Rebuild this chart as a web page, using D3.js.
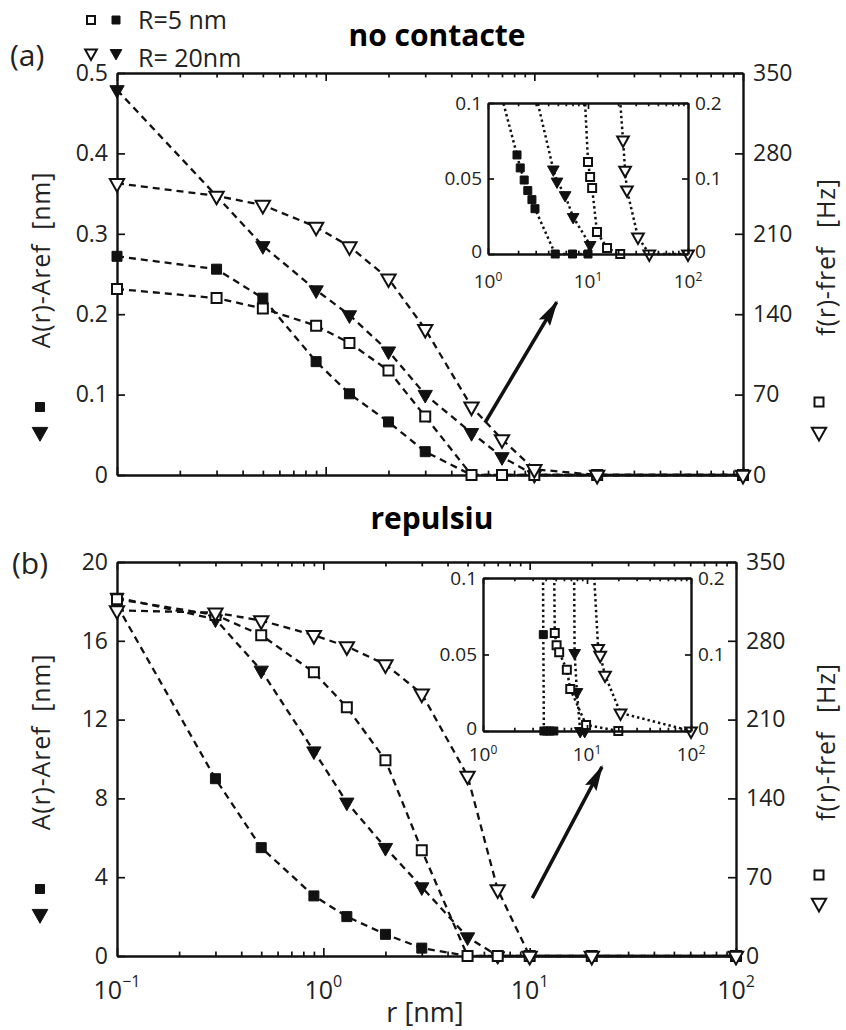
<!DOCTYPE html>
<html><head><meta charset="utf-8">
<script src="https://cdn.jsdelivr.net/npm/d3@7"></script>
<style>body{margin:0;background:#fff}</style>
</head><body>
<svg id="c" width="846" height="1030" xmlns="http://www.w3.org/2000/svg"></svg>
<script>
// ---------------- data ----------------
const rValues = [0.1, 0.3, 0.5, 0.9, 1.3, 2, 3, 5, 7, 10, 20, 100];
// panel (a) "no contacte"
const aAmpR5   = [0.272, 0.256, 0.220, 0.141, 0.101, 0.066, 0.029, 0, 0, 0, 0, 0];      // nm, filled square
const aAmpR20  = [0.479, 0.347, 0.285, 0.230, 0.199, 0.154, 0.100, 0.0525, 0.0225, 0, 0, 0]; // nm, filled triangle
const aFreqR5  = [162, 154, 145, 130, 115, 91, 51, 0, 0, 0, 0, 0];                       // Hz, open square
const aFreqR20 = [254, 243, 235, 216, 199, 171, 127, 59.5, 31, 5, 0, 0];                 // Hz, open triangle
// panel (b) "repulsiu"
const bAmpR5   = [17.8, 9.0, 5.5, 3.05, 2.0, 1.1, 0.4, 0, 0, 0, 0, 0];
const bAmpR20  = [18.2, 17.1, 14.5, 10.4, 7.8, 5.5, 3.5, 0.96, 0, 0, 0, 0];
const bFreqR5  = [317, 303, 285, 252, 221, 174, 94, 0, 0, 0, 0, 0];
const bFreqR20 = [307, 305, 298, 285, 275, 259, 233, 160, 59, 0, 0, 0];
// inset (a)
const insAAmpR5_r   = [1.3, 1.95, 2.1, 2.3, 2.5, 2.75, 2.95, 4.7, 7, 10];
const insAAmpR5     = [0.11, 0.0656, 0.057, 0.049, 0.042, 0.036, 0.030, 0, 0, 0];
const insAAmpR20_r  = [2.9, 4.5, 4.9, 5.9, 7.1, 10.5];
const insAAmpR20    = [0.11, 0.056, 0.048, 0.039, 0.0245, 0.006];
const insAFreqR5_r  = [9.2, 10, 10.5, 11, 12.3, 15.5, 21];
const insAFreqR5    = [0.22, 0.122, 0.102, 0.0874, 0.029, 0.008, 0];
const insAFreqR20_r = [20, 22.4, 23.5, 24.5, 31.6, 41, 100];
const insAFreqR20   = [0.24, 0.151, 0.111, 0.085, 0.0225, 0, 0];
// inset (b)
const insBAmpR5_r   = [3.75, 3.8, 3.85, 4.1, 4.4, 4.8];
const insBAmpR5     = [0.15, 0.063, 0, 0, 0, 0];
const insBAmpR20_r  = [7.45, 7.6, 8.0, 8.6, 9.5];
const insBAmpR20    = [0.15, 0.051, 0.0255, 0, 0];
const insBFreqR5_r  = [4.8, 4.9, 5.1, 5.4, 6.4, 6.9, 9.8, 20];
const insBFreqR5    = [0.25, 0.128, 0.112, 0.103, 0.080, 0.055, 0.008, 0];
const insBFreqR20_r = [11.2, 12.8, 13.4, 14.9, 21, 100];
const insBFreqR20   = [0.25, 0.108, 0.099, 0.073, 0.0235, 0];
// ticks
const aLeftTicks  = [0, 0.1, 0.2, 0.3, 0.4, 0.5];
const bLeftTicks  = [0, 4, 8, 12, 16, 20];
const rightTicks  = [0, 70, 140, 210, 280, 350];
const insLeftTicks  = [0, 0.05, 0.1];
const insRightTicks = [0, 0.1, 0.2];
const mainDecades = [0.1, 1, 10, 100];
const mainExp = ["\u22121", "0", "1", "2"];
const insDecades = [1, 10, 100];
const insExp = ["0", "1", "2"];
const legendLabels = ["R=5 nm", "R= 20nm"];
const titles = ["no contacte", "repulsiu"];

// ---------------- helpers ----------------
const FONT = "'Open Sans', 'DejaVu Sans', sans-serif";
const svg = d3.select("#c");
svg.append("rect").attr("width", 846).attr("height", 1030).attr("fill", "#fff");

function shapePath(shape, s) {
  if (shape === "sq") return `M${-s/2},${-s/2}h${s}v${s}h${-s}Z`;
  const w = s * 1.3, h = s * 1.15;
  return `M${-w/2},${-h/3}L${w/2},${-h/3}L0,${2*h/3}Z`;
}
function marker(g, shape, filled, x, y, s) {
  g.append("path").attr("d", shapePath(shape, s))
    .attr("transform", `translate(${x},${y})`)
    .attr("fill", filled ? "#111" : "#fff")
    .attr("stroke", "#111").attr("stroke-width", filled ? 1 : 2);
}
function minorTicks(lo, hi) {
  const out = [];
  for (let e = Math.log10(lo); e < Math.log10(hi); e++)
    for (let k = 2; k <= 9; k++) out.push(k * Math.pow(10, e));
  return out;
}
function styleAxis(g, fs) {
  g.select("path.domain").attr("stroke", "#111").attr("stroke-width", 2.4);
  g.selectAll(".tick line").attr("stroke", "#111").attr("stroke-width", 1.7);
  g.selectAll("text").attr("font-family", FONT).attr("font-size", fs).attr("fill", "#222");
  g.attr("font-family", null).attr("font-size", null);
}
function frame(g, xs, yL, yR, o) {
  const [x0, x1] = xs.range(), [yB, yT] = yL.range();
  const gl = g.append("g").attr("transform", `translate(${x0},0)`)
    .call(d3.axisLeft(yL).tickValues(o.lt).tickFormat(o.lf).tickSize(-o.tk).tickSizeOuter(0).tickPadding(o.padL));
  styleAxis(gl, o.fs);
  const gr = g.append("g").attr("transform", `translate(${x1},0)`)
    .call(d3.axisRight(yR).tickValues(o.rt).tickFormat(o.rf).tickSize(-o.tk).tickSizeOuter(0).tickPadding(o.padR));
  styleAxis(gr, o.fs);
  if (o.raiseZero) {
    [gl, gr].forEach(ga => ga.selectAll(".tick").filter(d => d === 0).select("text")
      .attr("y", -o.raiseZero));
  }
  [[d3.axisBottom, yB], [d3.axisTop, yT]].forEach(([ax, yy]) => {
    const gm = g.append("g").attr("transform", `translate(0,${yy})`)
      .call(ax(xs).tickValues(o.maj).tickFormat("").tickSize(-o.tk).tickSizeOuter(0));
    styleAxis(gm, o.fs);
    const gn = g.append("g").attr("transform", `translate(0,${yy})`)
      .call(ax(xs).tickValues(o.min).tickFormat("").tickSize(-o.tk * 0.55).tickSizeOuter(0));
    styleAxis(gn, o.fs);
    gn.select("path.domain").remove();
  });
}
function xLabels(g, xs, decs, exps, y, fs, sfs, supDy) {
  decs.forEach((d, i) => {
    const t = g.append("text").attr("x", xs(d)).attr("y", y).attr("text-anchor", "middle")
      .attr("font-family", FONT).attr("font-size", fs).attr("fill", "#222");
    t.append("tspan").text("10");
    t.append("tspan").attr("dy", -supDy).attr("font-size", sfs).text(exps[i]);
  });
}
function series(g, xs, ys, rs, vs, shape, filled, s, dash, lw, clipId, maxV) {
  const pts = rs.map((r, i) => [r, vs[i]]);
  const line = d3.line().x(d => xs(d[0])).y(d => ys(d[1]));
  const p = g.append("path").datum(pts).attr("d", line).attr("fill", "none")
    .attr("stroke", "#111").attr("stroke-width", lw).attr("stroke-dasharray", dash);
  if (clipId) p.attr("clip-path", `url(#${clipId})`);
  pts.filter(d => maxV === undefined || d[1] <= maxV)
    .forEach(d => marker(g, shape, filled, xs(d[0]), ys(d[1]), s));
}

// ---------------- main panels ----------------
function mainPanel(cfg) {
  const g = svg.append("g");
  const xs = d3.scaleLog().domain([0.1, 100]).range([cfg.x0, cfg.x1]);
  const yL = d3.scaleLinear().domain([0, cfg.leftMax]).range([cfg.yB, cfg.yT]);
  const yR = d3.scaleLinear().domain([0, 350]).range([cfg.yB, cfg.yT]);
  frame(g, xs, yL, yR, {lt: cfg.lt, lf: cfg.lf, rt: rightTicks, rf: d3.format("d"), tk: 8,
    padL: 9, padR: 10, maj: mainDecades, min: minorTicks(0.1, 100), fs: 23});
  const dash = "7,5";
  series(g, xs, yL, rValues, cfg.ampR5, "sq", true, 10, dash, 2.3);
  series(g, xs, yL, rValues, cfg.ampR20, "tri", true, 11, dash, 2.3);
  series(g, xs, yR, rValues, cfg.freqR5, "sq", false, 10, dash, 2.3);
  series(g, xs, yR, rValues, cfg.freqR20, "tri", false, 11, dash, 2.3);
  // arrow (in data coordinates)
  g.append("line").attr("x1", xs(cfg.arrow[0][0])).attr("y1", yL(cfg.arrow[0][1]))
    .attr("x2", xs(cfg.arrow[1][0])).attr("y2", yL(cfg.arrow[1][1]))
    .attr("stroke", "#111").attr("stroke-width", 3.5).attr("marker-end", "url(#ah)");
  if (cfg.xlab) {
    xLabels(g, xs, mainDecades, mainExp, cfg.xlabY, 25, 16, 12);
    g.append("text").attr("x", 425).attr("y", 1022).attr("text-anchor", "middle")
      .attr("font-family", FONT).attr("font-size", 27).attr("fill", "#222").text("r [nm]");
  }
  // title
  svg.append("text").attr("x", cfg.titleX).attr("y", cfg.titleY).attr("text-anchor", "middle")
    .attr("font-family", FONT).attr("font-weight", 700).attr("font-size", 30).attr("fill", "#000")
    .text(cfg.title);
  // panel letter
  svg.append("text").attr("x", cfg.letX).attr("y", cfg.letY).attr("font-family", FONT)
    .attr("font-size", 30).attr("fill", "#222").text(cfg.letter);
  // y labels
  const lt = svg.append("text").attr("transform", `translate(50,${cfg.lyC}) rotate(-90)`)
    .attr("text-anchor", "middle").attr("font-family", FONT).attr("font-size", 25)
    .attr("letter-spacing", 0.8).attr("fill", "#222");
  lt.append("tspan").text("A(r)-Aref");
  lt.append("tspan").attr("dx", 14).text("[nm]");
  marker(svg, "sq", true, 40, cfg.lm[0], 9);
  marker(svg, "tri", true, 40, cfg.lm[1], 12);
  const rt = svg.append("text").attr("transform", `translate(835,${cfg.ryC}) rotate(-90)`)
    .attr("text-anchor", "middle").attr("font-family", FONT).attr("font-size", 25)
    .attr("letter-spacing", 0.8).attr("fill", "#222");
  rt.append("tspan").text("f(r)-fref");
  rt.append("tspan").attr("dx", 18).text("[Hz]");
  marker(svg, "sq", false, 819, cfg.rm[0], 9);
  marker(svg, "tri", false, 819, cfg.rm[1], 11);
}

function inset(cfg) {
  const g = svg.append("g");
  g.append("rect").attr("x", cfg.x0).attr("y", cfg.yT).attr("width", cfg.x1 - cfg.x0)
    .attr("height", cfg.yB - cfg.yT).attr("fill", "#fff");
  const clipId = "clip" + cfg.id;
  svg.select("defs").append("clipPath").attr("id", clipId).append("rect")
    .attr("x", cfg.x0).attr("y", cfg.yT).attr("width", cfg.x1 - cfg.x0).attr("height", cfg.yB - cfg.yT + 2);
  const xs = d3.scaleLog().domain([1, 100]).range([cfg.x0, cfg.x1]);
  const yL = d3.scaleLinear().domain([0, 0.1]).range([cfg.yB, cfg.yT]);
  const yR = d3.scaleLinear().domain([0, 0.2]).range([cfg.yB, cfg.yT]);
  const dot = "2.4,3";
  series(g, xs, yL, cfg.s[0][0], cfg.s[0][1], "sq", true, 8, dot, 2.5, clipId, 0.1);
  series(g, xs, yL, cfg.s[1][0], cfg.s[1][1], "tri", true, 9, dot, 2.5, clipId, 0.1);
  series(g, xs, yR, cfg.s[2][0], cfg.s[2][1], "sq", false, 8, dot, 2.5, clipId, 0.2);
  series(g, xs, yR, cfg.s[3][0], cfg.s[3][1], "tri", false, 9, dot, 2.5, clipId, 0.2);
  frame(g, xs, yL, yR, {lt: insLeftTicks, lf: d => String(d), rt: insRightTicks, rf: d => String(d),
    tk: 6, padL: 6, padR: 7, maj: insDecades, min: minorTicks(1, 100), fs: 19, raiseZero: 3});
  xLabels(g, xs, insDecades, insExp, cfg.xlabY, 19, 12, 7);
}

const defs = svg.append("defs");
defs.append("marker").attr("id", "ah").attr("viewBox", "0 0 26 13").attr("refX", 24).attr("refY", 6.5)
  .attr("markerWidth", 26).attr("markerHeight", 13).attr("markerUnits", "userSpaceOnUse").attr("orient", "auto")
  .append("path").attr("d", "M0,0L26,6.5L0,13L4,6.5Z").attr("fill", "#111");

mainPanel({x0: 117, x1: 743, yT: 73, yB: 475, leftMax: 0.5, lt: aLeftTicks,
  lf: d => d === 0 ? "0" : d3.format(".1f")(d),
  ampR5: aAmpR5, ampR20: aAmpR20, freqR5: aFreqR5, freqR20: aFreqR20,
  arrow: [[5.8, 0.065], [12.8, 0.215]], xlab: false,
  title: titles[0], titleX: 437, titleY: 46, letter: "(a)", letX: 10, letY: 66,
  lyC: 260, lm: [407, 432], ryC: 257, rm: [402, 432]});
mainPanel({x0: 117, x1: 736, yT: 562, yB: 956, leftMax: 20, lt: bLeftTicks,
  lf: d3.format("d"),
  ampR5: bAmpR5, ampR20: bAmpR20, freqR5: bFreqR5, freqR20: bFreqR20,
  arrow: [[10.3, 2.94], [22.4, 9.6]], xlab: true, xlabY: 999,
  title: titles[1], titleX: 432, titleY: 529, letter: "(b)", letX: 12, letY: 574,
  lyC: 742, lm: [889, 914], ryC: 742, rm: [875, 903]});

inset({id: "a", x0: 488, x1: 688, yT: 103, yB: 254, xlabY: 288,
  s: [[insAAmpR5_r, insAAmpR5], [insAAmpR20_r, insAAmpR20], [insAFreqR5_r, insAFreqR5], [insAFreqR20_r, insAFreqR20]]});
inset({id: "b", x0: 483, x1: 691, yT: 578, yB: 731, xlabY: 761,
  s: [[insBAmpR5_r, insBAmpR5], [insBAmpR20_r, insBAmpR20], [insBFreqR5_r, insBFreqR5], [insBFreqR20_r, insBFreqR20]]});

// legend
const lg = svg.append("g");
marker(lg, "sq", false, 91, 20, 8);
marker(lg, "sq", true, 116, 20, 8);
marker(lg, "tri", false, 91, 53, 9);
marker(lg, "tri", true, 116, 53, 9);
legendLabels.forEach((t, i) => lg.append("text").attr("x", 138).attr("y", 29 + i * 38)
  .attr("font-family", FONT).attr("font-size", 25).attr("fill", "#222").text(t));
</script>
</body></html>
